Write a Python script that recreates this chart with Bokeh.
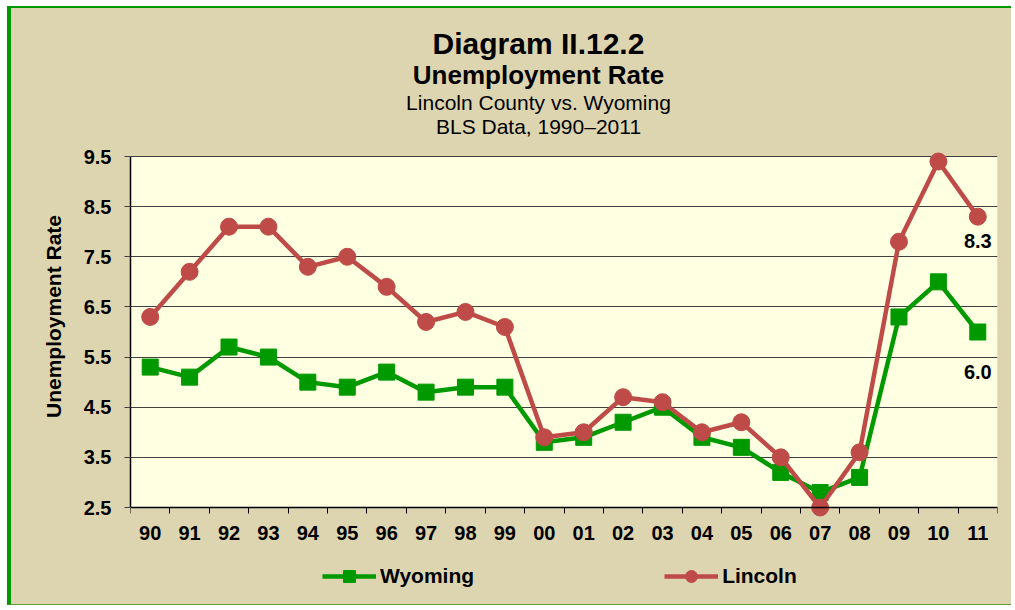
import numpy as np
from bokeh.plotting import figure
from bokeh.models import (Range1d, FixedTicker, PrintfTickFormatter, Label,
                          Legend, LegendItem, BoxAnnotation)
from bokeh.embed import file_html
from bokeh.resources import INLINE

# ---------------- data ----------------
years = ["90", "91", "92", "93", "94", "95", "96", "97", "98", "99", "00",
         "01", "02", "03", "04", "05", "06", "07", "08", "09", "10", "11"]
wyoming = [5.3, 5.1, 5.7, 5.5, 5.0, 4.9, 5.2, 4.8, 4.9, 4.9, 3.8,
           3.9, 4.2, 4.5, 3.9, 3.7, 3.2, 2.8, 3.1, 6.3, 7.0, 6.0]
lincoln = [6.3, 7.2, 8.1, 8.1, 7.3, 7.5, 6.9, 6.2, 6.4, 6.1, 3.9,
           4.0, 4.7, 4.6, 4.0, 4.2, 3.5, 2.5, 3.6, 7.8, 9.4, 8.3]
y_ticks = [2.5, 3.5, 4.5, 5.5, 6.5, 7.5, 8.5, 9.5]
title_lines = ["Diagram II.12.2", "Unemployment Rate",
               "Lincoln County vs. Wyoming", "BLS Data, 1990\u20132011"]
series_names = ["Wyoming", "Lincoln"]
y_label = "Unemployment Rate"

# ---------------- style / layout ----------------
FONT = "Liberation Sans"
BG = "#DDD5B0"
PLOT_BG = "#FFFFE1"
GREEN = "#009900"
RED = "#BE4B48"

CANVAS_TOP = 8          # page px (6px margin + 2px border)
FRAME_TOP, FRAME_BOTTOM = 30, 602      # page px of the drawing frame
DATA_TOP, DATA_BOTTOM = 156, 507       # page px of the value area
FRAME_LEFT, FRAME_RIGHT = 130, 997

n = len(years)
xs = np.arange(n) + 0.5
ymin, ymax = y_ticks[0], y_ticks[-1]
ppu = (DATA_BOTTOM - DATA_TOP) / (ymax - ymin)     # px per unit
ppx = (FRAME_RIGHT - FRAME_LEFT) / n               # px per category


def ypix(py):
    """page pixel row -> data y"""
    return ymax + (DATA_TOP - py) / ppu


def xpix(px):
    return (px - FRAME_LEFT) / ppx


p = figure(width=1004, height=599, output_backend="svg", toolbar_location=None,
           x_range=Range1d(0, n),
           y_range=Range1d(ypix(FRAME_BOTTOM), ypix(FRAME_TOP)), title=None,
           min_border_left=119, min_border_right=18,
           min_border_top=FRAME_TOP - CANVAS_TOP,
           min_border_bottom=607 - FRAME_BOTTOM,
           background_fill_color=None, border_fill_color=BG,
           outline_line_color=None)
p.styles = {"margin-left": "7px", "margin-top": "6px",
            "background-color": BG,
            "border-left": "4px solid #009900",
            "border-top": "2px solid #009900",
            "border-bottom": "1px solid #5E9E3C"}

# light plot area behind the grid
p.add_layout(BoxAnnotation(bottom=ymin, top=ymax, fill_color=PLOT_BG,
                           fill_alpha=1, line_color=None, level="image"))

# x axis: placed on the value floor, labels at centres, ticks between
p.xaxis.fixed_location = ymin
p.xaxis.ticker = FixedTicker(ticks=list(xs), minor_ticks=list(range(n + 1)))
p.xaxis.major_label_overrides = {float(x): lab for x, lab in zip(xs, years)}
p.xaxis.major_tick_out = 0
p.xaxis.major_tick_in = 0
p.xaxis.minor_tick_out = 6
p.xaxis.minor_tick_in = 0
p.xaxis.minor_tick_line_color = "black"
p.xaxis.axis_line_color = "black"
p.xaxis.axis_line_width = 1.5
p.xaxis.major_label_standoff = 12
p.xaxis.major_label_text_font = FONT
p.xaxis.major_label_text_font_size = "20px"
p.xaxis.major_label_text_font_style = "bold"
p.xaxis.major_label_text_color = "black"

p.yaxis.ticker = FixedTicker(ticks=y_ticks)
p.yaxis.bounds = (ymin, ymax)
p.yaxis.formatter = PrintfTickFormatter(format="%.1f")
p.yaxis.major_tick_out = 6
p.yaxis.major_tick_in = 0
p.yaxis.minor_tick_line_color = None
p.yaxis.major_tick_line_color = "#404040"
p.yaxis.axis_line_color = "black"
p.yaxis.axis_line_width = 1.5
p.yaxis.major_label_standoff = 13
p.yaxis.major_label_text_font = FONT
p.yaxis.major_label_text_font_size = "20px"
p.yaxis.major_label_text_font_style = "bold"
p.yaxis.major_label_text_color = "black"
p.yaxis.axis_label = y_label
p.yaxis.axis_label_standoff = 16
p.yaxis.axis_label_text_font = FONT
p.yaxis.axis_label_text_font_size = "21px"
p.yaxis.axis_label_text_font_style = "bold"
p.yaxis.axis_label_text_color = "black"

p.xgrid.visible = False
p.ygrid.ticker = FixedTicker(ticks=y_ticks)
p.ygrid.grid_line_color = "#404040"
p.ygrid.grid_line_width = 1.2

# ---------------- series ----------------
lw = p.line(xs, wyoming, line_color=GREEN, line_width=4.5)
sw = p.scatter(xs, wyoming, marker="square", size=16, fill_color=GREEN,
               line_color=GREEN)
ll = p.line(xs, lincoln, line_color=RED, line_width=4.5)
sl = p.scatter(xs, lincoln, marker="circle", size=17, fill_color=RED,
               line_color=RED)

legend = Legend(items=[LegendItem(label=series_names[0], renderers=[lw, sw]),
                       LegendItem(label=series_names[1], renderers=[ll, sl])],
                orientation="horizontal", location=(322 - FRAME_LEFT, 11),
                spacing=190, glyph_width=54, glyph_height=30, label_standoff=4,
                margin=0, padding=0, border_line_color=None,
                background_fill_alpha=0, label_text_font=FONT,
                label_text_font_size="21px", label_text_font_style="bold",
                label_text_color="black")
p.add_layout(legend, "center")

# end-point value labels
for vals, off in ((lincoln, 24), (wyoming, 40)):
    v = vals[-1]
    p.add_layout(Label(x=xs[-1], y=v - off / ppu, text=f"{v:.1f}",
                       text_align="center", text_baseline="middle",
                       text_font=FONT, text_font_size="20px",
                       text_font_style="bold", text_color="black"))

# titles (vertical centres in page px)
title_specs = [(title_lines[0], 43, "30px", "bold"),
               (title_lines[1], 74, "26px", "bold"),
               (title_lines[2], 102, "21px", "normal"),
               (title_lines[3], 126, "21px", "normal")]
for txt, mid, size, style in title_specs:
    p.add_layout(Label(x=xpix(538), y=ypix(mid), text=txt,
                       text_align="center", text_baseline="middle",
                       text_font=FONT, text_font_size=size,
                       text_font_style=style, text_color="black"))

open("out.html", "w").write(file_html(p, INLINE))
